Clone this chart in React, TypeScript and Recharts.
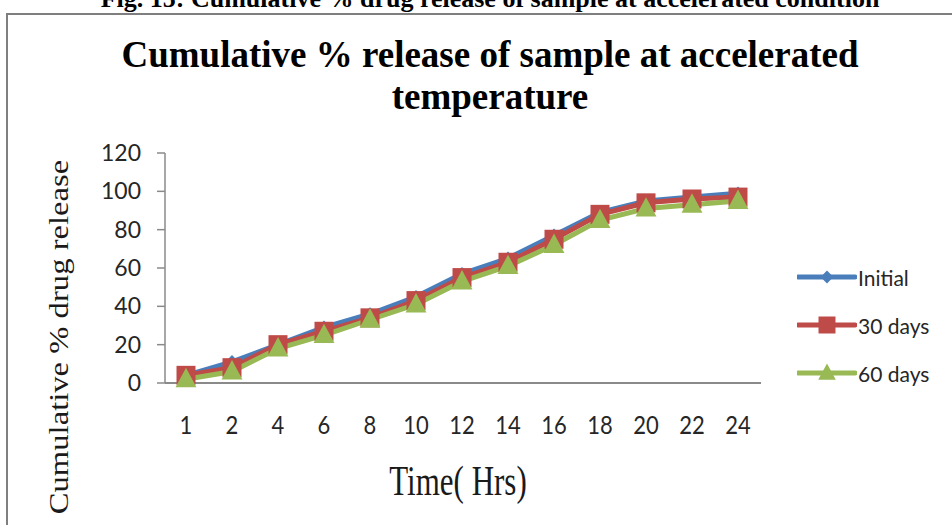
import React from 'react';
import { LineChart, Line, XAxis, YAxis, Legend, Label } from 'recharts';

const hours = ['1', '2', '4', '6', '8', '10', '12', '14', '16', '18', '20', '22', '24'];
const initial = [4, 11, 20, 29, 36, 45, 57, 65, 77, 89, 95, 97, 99];
const days30 = [4, 8, 20, 27, 34, 43, 55, 63, 75, 88, 94, 96, 97];
const days60 = [2, 6, 18, 25, 33, 41, 53, 61, 72, 85, 91, 93, 95];
const yTicks = [0, 20, 40, 60, 80, 100, 120];

const seriesNames = ['Initial', '30 days', '60 days'];
const seriesKeys = ['initial', 'd30', 'd60'];
const seriesColors = ['#4A7EBB', '#BE4B48', '#98B954'];
const seriesShapes = ['diamond', 'square', 'triangle'];

const data = hours.map((h, i) => ({ hour: h, initial: initial[i], d30: days30[i], d60: days60[i] }));

function markerPath(shape: string, cx: number, cy: number, s: number) {
  if (shape === 'diamond') {
    const r = s * 0.4;
    return `M${cx},${cy - r}L${cx + r},${cy}L${cx},${cy + r}L${cx - r},${cy}Z`;
  }
  if (shape === 'square') {
    const r = s * 0.5;
    return `M${cx - r},${cy - r}L${cx + r},${cy - r}L${cx + r},${cy + r}L${cx - r},${cy + r}Z`;
  }
  const w = s * 0.55;
  return `M${cx},${cy - s * 0.6}L${cx + w},${cy + s * 0.42}L${cx - w},${cy + s * 0.42}Z`;
}

const makeDot = (shape: string, color: string, size: number) => (props: any) => {
  const { cx, cy, index } = props;
  if (cx == null || cy == null) return <g key={`e${index}`} />;
  return <path key={`${shape}${index}`} d={markerPath(shape, cx, cy, size)} fill={color} />;
};

const XTick = (props: any) => {
  const { x, y, payload } = props;
  return (
    <g transform={`translate(${x},${y})`}>
      <text transform="scale(1,1.15)" textAnchor="middle" dy="0.71em" fontFamily="Lato" fontSize={22} fill="#262626">
        {payload.value}
      </text>
    </g>
  );
};

const renderLegend = () => (
  <div style={{ display: 'flex', flexDirection: 'column' }}>
    {seriesNames.map((name, i) => (
      <div key={name} style={{ display: 'flex', alignItems: 'center', height: 48 }}>
        <svg width={60} height={24} style={{ display: 'block' }}>
          <line x1={1} y1={12} x2={58} y2={12} stroke={seriesColors[i]} strokeWidth={5} strokeLinecap="round" />
          <path d={markerPath(seriesShapes[i], 30, 12, i === 1 ? 17 : 16)} fill={seriesColors[i]} />
        </svg>
        <span style={{ fontFamily: 'Lato', fontSize: 21, color: '#262626', marginLeft: 1 }}>{name}</span>
      </div>
    ))}
  </div>
);

export default function App() {
  return (
    <div style={{ position: 'absolute', left: 0, top: 0, width: 952, height: 525, overflow: 'hidden', background: '#fff' }}>
      <div
        style={{
          position: 'absolute', left: 90, top: -14, width: 800, textAlign: 'center',
          fontFamily: '"Liberation Serif", serif', fontWeight: 'bold', fontSize: 26, lineHeight: '26px', color: '#000', whiteSpace: 'nowrap',
        }}
      >
        Fig. 15: Cumulative % drug release of sample at accelerated condition
      </div>
      <div style={{ position: 'absolute', left: 6, top: 13, width: 1000, height: 600, border: '2px solid #7f7f7f' }} />
      <div
        style={{
          position: 'absolute', left: 90, top: 34, width: 800, textAlign: 'center',
          fontFamily: '"Liberation Serif", serif', fontWeight: 'bold', fontSize: 37, lineHeight: '42px', color: '#000',
        }}
      >
        Cumulative % release of sample at accelerated
        <br />
        temperature
      </div>
      <div style={{ position: 'absolute', left: 0, top: 0 }}>
        <LineChart width={952} height={525} data={data} margin={{ top: 153, right: 191, bottom: 102, left: 105 }}>
          <XAxis
            dataKey="hour"
            type="category"
            height={40}
            padding={{ left: 21, right: 23 }}
            tickLine={false}
            tickSize={8}
            tickMargin={25}
            axisLine={{ stroke: '#8a8a8a', strokeWidth: 2 }}
            tick={<XTick />}
            interval={0}
          >
            <Label
              content={() => (
                <text
                  transform="translate(458,495) scale(1,1.35)"
                  textAnchor="middle"
                  fontFamily="'Liberation Serif', serif"
                  fontSize={31}
                  fill="#1a1a1a"
                >
                  Time( Hrs)
                </text>
              )}
            />
          </XAxis>
          <YAxis
            width={60}
            domain={[0, 120]}
            ticks={yTicks}
            interval={0}
            tickSize={8}
            tickMargin={16}
            axisLine={{ stroke: '#8a8a8a', strokeWidth: 1.5 }}
            tickLine={{ stroke: '#8a8a8a', strokeWidth: 1.5 }}
            tick={{ fontFamily: 'Lato', fontSize: 23, fill: '#262626' }}
          >
            <Label
              content={() => (
                <text
                  transform="translate(68,337) rotate(-90) scale(1.21,1)"
                  textAnchor="middle"
                  fontFamily="'Liberation Serif', serif"
                  fontSize={27}
                  fill="#1a1a1a"
                >
                  Cumulative % drug release
                </text>
              )}
            />
          </YAxis>
          <Legend
            layout="vertical"
            align="center"
            verticalAlign="middle"
            wrapperStyle={{ left: 797, top: 253, width: 160 }}
            content={renderLegend}
          />
          {seriesKeys.map((k, i) => (
            <Line
              key={k}
              type="linear"
              dataKey={k}
              name={seriesNames[i]}
              stroke={seriesColors[i]}
              strokeWidth={5}
              dot={makeDot(seriesShapes[i], seriesColors[i], i === 1 ? 19 : i === 2 ? 19 : 17)}
              activeDot={false}
              isAnimationActive={false}
            />
          ))}
        </LineChart>
      </div>
    </div>
  );
}
